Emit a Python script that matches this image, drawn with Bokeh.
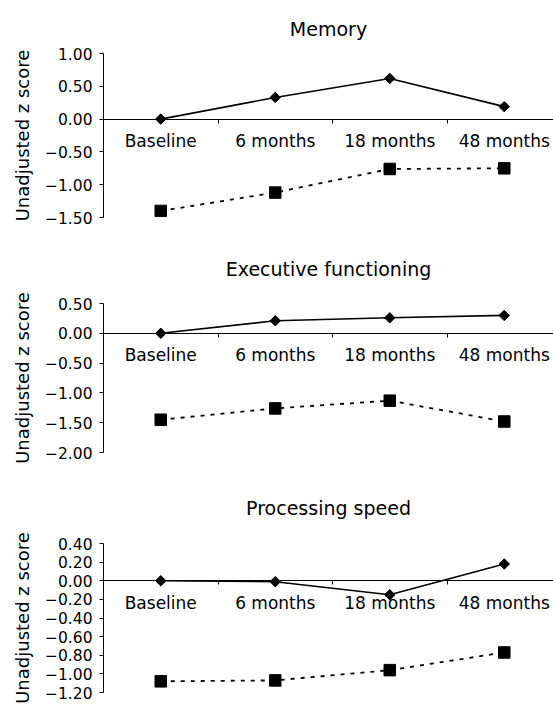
import math
from bokeh.plotting import figure
from bokeh.models import Range1d, LinearAxis, FixedTicker
from bokeh.layouts import column
from bokeh.embed import file_html
from bokeh.resources import INLINE

categories = ["Baseline", "6 months", "18 months", "48 months"]
titles = ["Memory", "Executive functioning", "Processing speed"]

memory_top = [0.00, 0.33, 0.62, 0.19]
memory_bottom = [-1.40, -1.12, -0.76, -0.75]
exec_top = [0.00, 0.21, 0.26, 0.30]
exec_bottom = [-1.45, -1.26, -1.13, -1.48]
speed_top = [0.00, -0.01, -0.15, 0.18]
speed_bottom = [-1.08, -1.07, -0.96, -0.77]

memory_ticks = [1.00, 0.50, 0.00, -0.50, -1.00, -1.50]
exec_ticks = [0.50, 0.00, -0.50, -1.00, -1.50, -2.00]
speed_ticks = [0.40, 0.20, 0.00, -0.20, -0.40, -0.60, -0.80, -1.00, -1.20]

FONT = "DejaVu Sans"
positions = [i + 0.5 for i in range(len(categories))]
boundaries = [i for i in range(1, len(categories))]


def fmt(t):
    return ("%.2f" % t).replace("-", "\u2212")


def panel(title, top, bottom, ticks, height, b_top, b_bottom, title_standoff):
    p = figure(width=553, height=height,
               x_range=Range1d(0, 3.93),
               y_range=Range1d(min(ticks), max(ticks)),
               x_axis_type=None, output_backend="svg", toolbar_location=None,
               min_border_left=103, min_border_right=0,
               min_border_top=b_top, min_border_bottom=b_bottom,
               title=title)
    p.outline_line_color = None
    p.ygrid.grid_line_color = None
    p.background_fill_color = "white"
    p.border_fill_color = "white"

    p.title.align = "center"
    p.title.text_font = FONT
    p.title.text_font_size = "19px"
    p.title.text_font_style = "normal"
    p.title.text_color = "black"
    p.title.standoff = title_standoff

    ya = p.yaxis[0]
    ya.ticker = FixedTicker(ticks=ticks)
    ya.major_label_overrides = {t: fmt(t) for t in ticks}
    ya.major_label_text_font = FONT
    ya.major_label_text_font_size = "15.5px"
    ya.major_label_text_color = "black"
    ya.major_label_standoff = 7
    ya.major_tick_in = 0
    ya.major_tick_out = 4
    ya.major_tick_line_color = "black"
    ya.minor_tick_line_color = None
    ya.axis_line_color = "black"
    ya.axis_label = "Unadjusted z score"
    ya.axis_label_text_font = FONT
    ya.axis_label_text_font_size = "18px"
    ya.axis_label_text_font_style = "normal"
    ya.axis_label_text_color = "black"
    ya.axis_label_standoff = 9

    xa = LinearAxis(fixed_location=0,
                    ticker=FixedTicker(ticks=positions, minor_ticks=boundaries),
                    major_tick_line_color=None,
                    minor_tick_in=0, minor_tick_out=4,
                    minor_tick_line_color="black",
                    axis_line_color="black",
                    major_label_overrides={pos: c for pos, c in zip(positions, categories)},
                    major_label_text_font=FONT,
                    major_label_text_font_size="17px",
                    major_label_text_color="black",
                    major_label_standoff=6)
    p.add_layout(xa, "below")

    p.line(positions, top, line_color="black", line_width=1.6)
    p.scatter(positions, top, marker="square", angle=math.pi / 4, size=7.4, color="black")
    p.line(positions, bottom, line_color="black", line_width=1.8, line_dash="4 6")
    p.scatter(positions, bottom, marker="square", size=11.5, color="black")
    return p


p1 = panel(titles[0], memory_top, memory_bottom, memory_ticks, 230, 53, 13, 28)
p2 = panel(titles[1], exec_top, exec_bottom, exec_ticks, 238, 73, 16, 48)
p3 = panel(titles[2], speed_top, speed_bottom, speed_ticks, 238, 75, 14, 50)

layout = column(p1, p2, p3, spacing=0)
open("out.html", "w").write(file_html(layout, INLINE))
